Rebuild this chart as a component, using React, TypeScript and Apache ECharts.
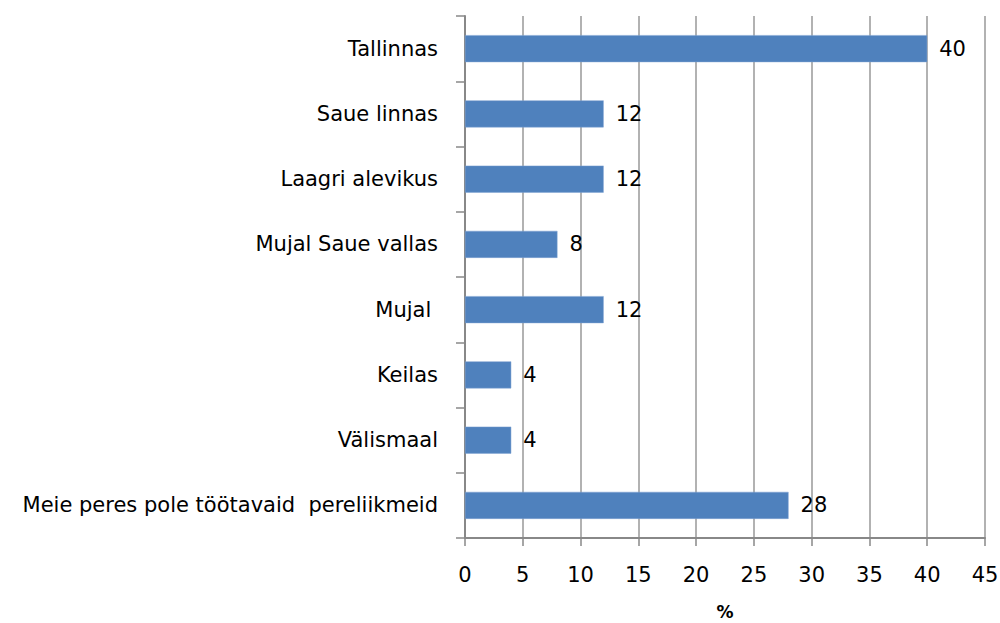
import React, { useEffect, useRef } from "react";
import * as echarts from "echarts";

const categories = [
  "Tallinnas",
  "Saue linnas",
  "Laagri alevikus",
  "Mujal Saue vallas",
  "Mujal ",
  "Keilas",
  "Välismaal",
  "Meie peres pole töötavaid  pereliikmeid",
];
const values = [40, 12, 12, 8, 12, 4, 4, 28];
const xTicks = { min: 0, max: 45, interval: 5 };
const axisName = "%";

export default function App() {
  const ref = useRef<HTMLDivElement>(null);
  useEffect(() => {
    if (!ref.current) return;
    const chart = echarts.init(ref.current, null, { renderer: "svg" });
    const font = "'DejaVu Sans', sans-serif";
    chart.setOption({
      animation: false,
      backgroundColor: "#ffffff",
      grid: {
        left: 465,
        right: 15,
        top: 16,
        bottom: 85,
        containLabel: false,
        outerBoundsMode: "none",
      },
      xAxis: {
        type: "value",
        min: xTicks.min,
        max: xTicks.max,
        interval: xTicks.interval,
        name: axisName,
        nameLocation: "middle",
        nameGap: 65,
        nameTextStyle: { fontFamily: font, fontSize: 17, fontWeight: "bold", color: "#000" },
        axisLine: { show: true, lineStyle: { color: "#888", width: 2 } },
        axisTick: { show: true, length: 8, lineStyle: { color: "#888", width: 1.5 } },
        axisLabel: { fontFamily: font, fontSize: 21, color: "#000", margin: 26 },
        splitLine: { show: true, lineStyle: { color: "#999", width: 1.5 } },
      },
      yAxis: {
        type: "category",
        data: categories,
        inverse: true,
        axisLine: { show: true, lineStyle: { color: "#888", width: 2 } },
        axisTick: { show: true, length: 9, lineStyle: { color: "#888", width: 1.5 } },
        axisLabel: { fontFamily: font, fontSize: 21, color: "#000", margin: 27 },
        splitLine: { show: false },
      },
      series: [
        {
          type: "bar",
          data: values,
          barWidth: 27,
          itemStyle: { color: "#4F81BD", borderColor: "#7FA2D2", borderWidth: 0.5 },
          label: {
            show: true,
            position: "right",
            distance: 12,
            fontFamily: font,
            fontSize: 21,
            color: "#000",
          },
        },
      ],
    });
    return () => chart.dispose();
  }, []);
  return (
    <div
      ref={ref}
      style={{ width: 1000, height: 623, position: "fixed", left: 0, top: 0 }}
    />
  );
}
